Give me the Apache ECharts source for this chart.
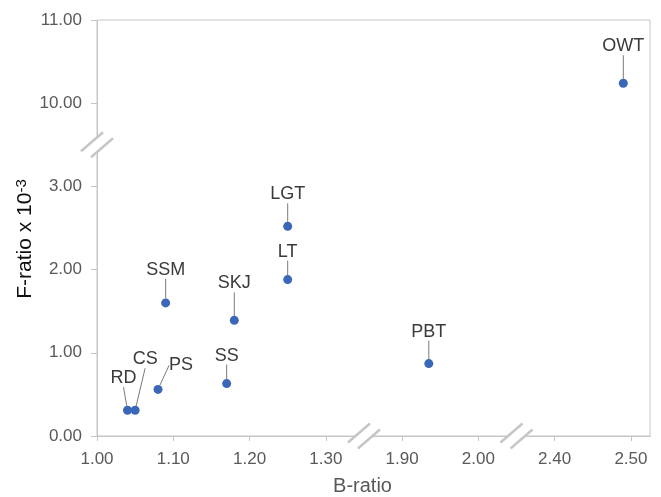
<!DOCTYPE html>
<html><head><meta charset="utf-8">
<script src="https://cdn.jsdelivr.net/npm/echarts@6/dist/echarts.min.js"></script>
<style>html,body{margin:0;padding:0;background:#fff}#c{width:661px;height:497px}</style>
</head><body><div id="c"></div>
<script>
// ---- data ----
const names  = ['RD', 'CS', 'PS', 'SSM', 'SS', 'SKJ', 'LT', 'LGT', 'PBT', 'OWT'];
const bRatio = [1.04, 1.05, 1.08, 1.09, 1.17, 1.18, 1.25, 1.25, 1.935, 2.49];
const fRatio = [0.31, 0.31, 0.56, 1.60, 0.63, 1.39, 1.88, 2.52, 0.87, 10.24];
const xTicks = [1.00, 1.10, 1.20, 1.30, 1.90, 2.00, 2.40, 2.50];
const yTicks = [0, 1, 2, 3, 10, 11];
const xBreaks = [[1.35, 1.85], [2.05, 2.35]];
const yBreaks = [[3.5, 9.5]];

// ---- style (label offsets relative to the point) ----
const labelOffsets = {
  RD: [-4, -32], CS: [10, -51], PS: [23, -24], SSM: [0, -33], SS: [0, -28],
  SKJ: [0, -37], LT: [0, -28], LGT: [0, -32], PBT: [0, -32], OWT: [0, -37]
};
const FONT = "'Liberation Sans', Arial, sans-serif";
const AXIS_COLOR = '#c6c6c6';

const chart = echarts.init(document.getElementById('c'), null, {renderer: 'canvas'});
const points = names.map((n, i) => ({name: n, value: [bRatio[i], fRatio[i]]}));

const option = {
  backgroundColor: '#fff',
  animation: false,
  grid: {left: 97, right: 11, top: 20, bottom: 61, show: true, borderColor: AXIS_COLOR, borderWidth: 1,
         containLabel: false, outerBoundsMode: 'none'},
  xAxis: {
    type: 'value', min: 1.0, max: 2.525, interval: 0.1,
    breaks: xBreaks.map(b => ({start: b[0], end: b[1], gap: 0})),
    breakArea: {show: false},
    splitLine: {show: false},
    axisLine: {show: true, lineStyle: {color: AXIS_COLOR, width: 1}},
    axisTick: {show: true, length: 5, customValues: xTicks, lineStyle: {color: AXIS_COLOR}},
    axisLabel: {customValues: xTicks, formatter: v => v.toFixed(2), color: '#595959', fontSize: 17, fontFamily: FONT, margin: 15},
    name: 'B-ratio', nameLocation: 'middle', nameGap: 40, nameMoveOverlap: false,
    nameTextStyle: {color: '#595959', fontSize: 20, fontFamily: FONT, padding: [0, 22, 0, 0]}
  },
  yAxis: {
    type: 'value', min: 0, max: 11, interval: 1,
    breaks: yBreaks.map(b => ({start: b[0], end: b[1], gap: 0})),
    breakArea: {show: false},
    splitLine: {show: false},
    axisLine: {show: true, lineStyle: {color: AXIS_COLOR, width: 1}},
    axisTick: {show: true, length: 6, customValues: yTicks, lineStyle: {color: AXIS_COLOR}},
    axisLabel: {customValues: yTicks, formatter: v => v.toFixed(2), color: '#595959', fontSize: 17, fontFamily: FONT, margin: 15},
    name: '{a|F-ratio x 10}{s|-3}', nameLocation: 'middle', nameGap: 60, nameMoveOverlap: false,
    nameTextStyle: {
      padding: [0, 22, 0, 0],
      rich: {
        a: {color: '#111', fontSize: 21, fontFamily: FONT},
        s: {color: '#111', fontSize: 15, fontFamily: FONT, verticalAlign: 'top', padding: [0, 0, 8, 0]}
      }
    }
  },
  series: [{
    type: 'scatter',
    data: points,
    symbol: 'circle',
    symbolSize: 9,
    itemStyle: {color: '#3a67b8', opacity: 1},
    label: {
      show: true, position: 'inside', formatter: p => p.name,
      color: '#3a3a3a', fontSize: 18, fontFamily: FONT
    },
    labelLayout: p => {
      const o = labelOffsets[names[p.dataIndex]] || [0, -30];
      return {dx: o[0], dy: o[1]};
    },
    labelLine: {show: true, lineStyle: {color: '#7a7a7a', width: 1, opacity: 1}},
    emphasis: {disabled: true}
  }]
};
chart.setOption(option);

// break markers "//" placed through the axes' own scales
function slash(cx, cy) {
  const hx = 11, hy = -9.5, ox = 5, oy = 3;
  const p1a = [cx - ox - hx, cy - oy - hy], p1b = [cx - ox + hx, cy - oy + hy];
  const p2a = [cx + ox - hx, cy + oy - hy], p2b = [cx + ox + hx, cy + oy + hy];
  return [
    {type: 'polygon', shape: {points: [p1a, p1b, p2b, p2a]}, style: {fill: '#fff'}, z: 100, silent: true},
    {type: 'line', shape: {x1: p1a[0], y1: p1a[1], x2: p1b[0], y2: p1b[1]}, style: {stroke: '#c6c6c6', lineWidth: 2.5}, z: 101, silent: true},
    {type: 'line', shape: {x1: p2a[0], y1: p2a[1], x2: p2b[0], y2: p2b[1]}, style: {stroke: '#c6c6c6', lineWidth: 2.5}, z: 101, silent: true}
  ];
}
const gfx = [];
xBreaks.forEach(b => {
  const p = chart.convertToPixel({gridIndex: 0}, [b[0], 0]);
  gfx.push(...slash(p[0], p[1]));
});
yBreaks.forEach(b => {
  const p = chart.convertToPixel({gridIndex: 0}, [1.0, b[0]]);
  gfx.push(...slash(p[0], p[1]));
});
chart.setOption({graphic: gfx});
</script>
</body></html>
